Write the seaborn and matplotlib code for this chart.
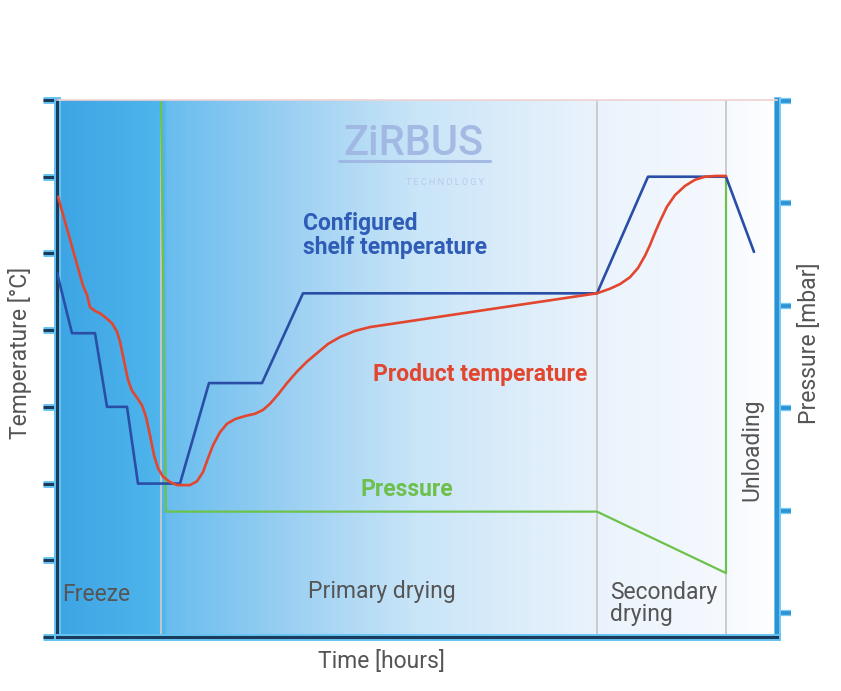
import numpy as np
import matplotlib
matplotlib.use('Agg')
import matplotlib.pyplot as plt
import matplotlib.patheffects as pe
from matplotlib.colors import LinearSegmentedColormap
import seaborn as sns

# Dados (tempo em horas, temperatura e pressão em unidades dos eixos)
shelf_time = [0, 1.5, 3.8, 5.0, 7.0, 8.1, 12.3, 15.2, 20.5, 24.6, 54.0, 59.1, 66.9, 69.7]
shelf_temp = [4.75, 3.96, 3.96, 3.0, 3.0, 2.0, 2.0, 3.31, 3.31, 4.48, 4.48, 6.0, 6.0, 5.02]

product_time = [0.1, 2.6, 3.0, 3.3, 3.8, 4.3, 4.9, 5.5, 6.0, 6.3, 6.7, 7.1, 7.5, 8.0, 8.5,
                8.9, 9.3, 9.7, 10.1, 10.6, 11.3, 12.0, 12.6, 13.3, 14.0, 14.6, 15.1, 15.6,
                16.3, 17.0, 17.8, 18.8, 19.8, 20.6, 21.3, 22.1, 23.0, 24.0, 25.0, 26.0,
                27.1, 28.3, 29.8, 31.3, 54.0, 55.3, 56.3, 57.3, 58.1, 58.8, 59.3, 59.8,
                60.3, 61.0, 61.8, 62.8, 63.8, 64.8, 65.9, 66.9]
product_temp = [5.74, 4.58, 4.46, 4.30, 4.25, 4.22, 4.16, 4.09, 3.98, 3.85, 3.60, 3.35, 3.21, 3.12, 3.02,
                2.87, 2.63, 2.37, 2.20, 2.09, 2.02, 1.98, 1.98, 1.98, 2.03, 2.15, 2.33, 2.50,
                2.67, 2.78, 2.84, 2.88, 2.91, 2.96, 3.04, 3.16, 3.31, 3.46, 3.59, 3.70,
                3.82, 3.91, 3.99, 4.04, 4.48, 4.54, 4.60, 4.69, 4.81, 4.97, 5.11, 5.27,
                5.42, 5.61, 5.76, 5.88, 5.96, 6.0, 6.01, 6.01]

pressure_time = [10.4, 10.9, 54.0, 66.9, 66.9]
pressure_val = [5.0, 0.99, 0.99, 0.39, 4.25]

phase_bounds = [10.4, 54.0, 66.9]
temp_ticks = list(range(8))
pressure_ticks = list(range(6))

# Cores
shelf_color = '#2a4ea6'
product_color = '#e2462f'
pressure_color = '#6cc24a'
text_gray = '#555555'
fs = 16.5

sns.set_style('white')
plt.rcParams['font.family'] = ['Roboto', 'DejaVu Sans']

fig = plt.figure(figsize=(8.41, 6.91), dpi=100)
rect = [57 / 841, 1 - 637 / 691, 720 / 841, 537 / 691]

# Fundo em degradê
bg = fig.add_axes(rect, zorder=0)
grad = LinearSegmentedColormap.from_list('fundo', [
    (0.0, '#3ea5e5'), (0.145, '#4fb5ec'), (0.152, '#69bdee'), (0.35, '#a3d3f3'),
    (0.5, '#c9e5f8'), (0.75, '#eaf3fc'), (0.93, '#f6f9fe'), (1.0, '#ffffff')])
bg.imshow(np.linspace(0, 1, 400).reshape(1, -1), cmap=grad, aspect='auto',
          extent=[0, 1, 0, 1], transform=bg.transAxes)
bg.axis('off')

ax = fig.add_axes(rect, zorder=2)
ax2 = ax.twinx()
ax2.set_zorder(1)
ax.patch.set_visible(False)
ax2.patch.set_visible(False)

# Linhas das fases
for b in phase_bounds:
    ax2.axvline(b, color='#c8c8c8', lw=1.3, zorder=1)

sns.lineplot(x=pressure_time, y=pressure_val, ax=ax2, color=pressure_color, lw=1.6,
             sort=False, estimator=None, zorder=3)
sns.lineplot(x=shelf_time, y=shelf_temp, ax=ax, color=shelf_color, lw=1.9,
             sort=False, estimator=None, zorder=3)
sns.lineplot(x=product_time, y=product_temp, ax=ax, color=product_color, lw=1.9,
             sort=False, estimator=None, zorder=4)

ax.set_xlim(0, 72)
ax.set_ylim(0, 7.0)
ax2.set_ylim(-24 / 102.4, 5.0 + 1 / 102.4)
ax.set_xticks([])
ax.set_yticks(temp_ticks)
ax2.set_yticks(pressure_ticks)

# Eixos
glow = [pe.withStroke(linewidth=5, foreground='#66c4f2')]
for s in ['left', 'bottom']:
    ax.spines[s].set_color('#1b3b5c')
    ax.spines[s].set_linewidth(2.2)
    ax.spines[s].set_path_effects(glow)
ax.spines['top'].set_color('#f0d2d2')
ax.spines['top'].set_linewidth(1.2)
ax.spines['right'].set_visible(False)
for s in ['left', 'top', 'bottom']:
    ax2.spines[s].set_visible(False)
ax2.spines['right'].set_color('#2d92d3')
ax2.spines['right'].set_linewidth(3)
ax2.spines['right'].set_path_effects([pe.withStroke(linewidth=5, foreground='#72c9f3')])

ax.tick_params(axis='y', direction='out', length=10, width=2.2, color='#1b3b5c', labelleft=False)
for t in ax.yaxis.get_major_ticks():
    t.tick1line.set_path_effects(glow)
ax2.tick_params(axis='y', direction='out', length=10, width=2.6, color='#2d92d3', labelright=False)
for t in ax2.yaxis.get_major_ticks():
    t.tick2line.set_path_effects([pe.withStroke(linewidth=4.5, foreground='#72c9f3')])

ax.set_xlabel('Time [hours]', fontsize=fs, color=text_gray)
ax.xaxis.set_label_coords(0.451, -0.025, transform=ax.transAxes)
ax.xaxis.label.set_va('top')
ax.set_ylabel('Temperature [°C]', fontsize=fs, color=text_gray, va='center')
ax.yaxis.set_label_coords(-0.0514, 0.529)
ax2.set_ylabel('Pressure [mbar]', fontsize=fs, color=text_gray, va='center')
ax2.yaxis.set_label_coords(1.0458, 0.547)

# Logo
ax.text(35.6, 6.43, 'ZiRBUS', fontsize=30, color='#9db2e0', ha='center', va='center',
        fontweight='medium', alpha=0.85)
ax.text(38.8, 5.93, 'T E C H N O L O G Y', fontsize=6.5, color='#b9c9ea', ha='center', va='center')
ax.plot([0.392, 0.601], [0.886, 0.886], transform=ax.transAxes, color='#9db2e0', lw=2.2, alpha=0.85)

# Rótulos das curvas
ax.text(24.6, 5.23, 'Configured\nshelf temperature', fontsize=fs, fontweight='bold',
        color='#2f5cb6', ha='left', va='center', linespacing=1.05)
ax.text(31.6, 3.42, 'Product temperature', fontsize=fs, fontweight='bold',
        color=product_color, ha='left', va='center')
ax.text(30.3, 1.92, 'Pressure', fontsize=fs, fontweight='bold',
        color='#6ec04c', ha='left', va='center')

# Fases
ax.text(0.5, 0.56, 'Freeze', fontsize=fs, color=text_gray, ha='left', va='center')
ax.text(25.1, 0.59, 'Primary drying', fontsize=fs, color=text_gray, ha='left', va='center')
ax.text(55.3, 0.44, 'Secondary\ndrying', fontsize=fs, color=text_gray, ha='left', va='center',
        linespacing=0.95)
ax.text(69.5, 2.44, 'Unloading', fontsize=fs, color=text_gray, ha='center', va='center',
        rotation=90)

plt.savefig('out.png', dpi=100)
